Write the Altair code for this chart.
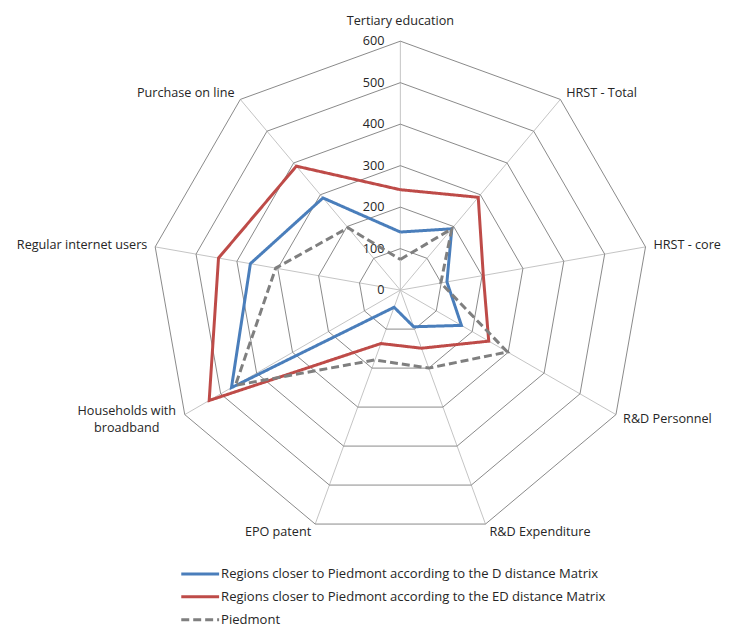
import altair as alt
import pandas as pd

# ---------------- data ----------------
categories = ["Tertiary education", "HRST - Total", "HRST - core", "R&D Personnel",
              "R&D Expenditure", "EPO patent", "Households with\nbroadband",
              "Regular internet users", "Purchase on line"]
series_names = ["Regions closer to Piedmont according to the D distance Matrix",
                "Regions closer to Piedmont according to the ED distance Matrix",
                "Piedmont"]
d_matrix = [140, 193, 114, 170, 94, 44, 470, 367, 290]
ed_matrix = [242, 292, 203, 246, 149, 137, 532, 445, 390]
piedmont = [74, 193, 99, 298, 200, 179, 459, 305, 196]
ticks = [0, 100, 200, 300, 400, 500, 600]

series_colors = ["#4A7EBB", "#BE4B48", "#7F7F7F"]
series_dash = [[1, 0], [1, 0], [8, 4]]

# ---------------- layout ----------------
FONT = "Open Sans"
FS = 12.7
LFS = 13.1
TEXT = "#262626"
W, H = 713, 620
CX, CY = 394, 282
RMAX = max(ticks)
U = RMAX / 250.0  # data units per pixel
N = len(categories)
ANG = f"(datum.idx * 2 * PI / {N})"

xs = alt.Scale(domain=[-CX * U, (W - CX) * U], nice=False, zero=False)
ys = alt.Scale(domain=[-(H - CY) * U, CY * U], nice=False, zero=False)
col_scale = alt.Scale(domain=series_names, range=series_colors)
dash_scale = alt.Scale(domain=series_names, range=series_dash)

series_df = pd.DataFrame([
    {"series": s, "idx": i, "value": vals[i % N]}
    for s, vals in zip(series_names, [d_matrix, ed_matrix, piedmont])
    for i in range(N + 1)
])
ring_df = pd.DataFrame([{"tick": t, "idx": i} for t in ticks[1:] for i in range(N + 1)])
cat_df = pd.DataFrame({"label": categories, "idx": list(range(N))})
tick_df = pd.DataFrame({"tick": ticks})
legend_df = pd.DataFrame({"series": series_names, "k": list(range(len(series_names)))})

rings = alt.Chart(ring_df).transform_calculate(
    px=f"datum.tick * sin({ANG})", py=f"datum.tick * cos({ANG})"
).mark_line(stroke="#898989", strokeWidth=1).encode(
    x=alt.X("px:Q", scale=xs, axis=None),
    y=alt.Y("py:Q", scale=ys, axis=None),
    detail="tick:N",
    order="idx:Q",
)

spokes = alt.Chart(cat_df).transform_calculate(
    x0="0", y0="0",
    px=f"{RMAX} * sin({ANG})", py=f"{RMAX} * cos({ANG})"
).mark_rule(stroke="#C4C4C4", strokeWidth=1).encode(
    x=alt.X("x0:Q", scale=xs, axis=None),
    y=alt.Y("y0:Q", scale=ys, axis=None),
    x2="px:Q",
    y2="py:Q",
)

lines = alt.Chart(series_df).transform_calculate(
    px=f"datum.value * sin({ANG})", py=f"datum.value * cos({ANG})"
).mark_line(strokeWidth=3).encode(
    x=alt.X("px:Q", scale=xs, axis=None),
    y=alt.Y("py:Q", scale=ys, axis=None),
    order="idx:Q",
    color=alt.Color("series:N", scale=col_scale, legend=None),
    strokeDash=alt.StrokeDash("series:N", scale=dash_scale, legend=None),
)

tick_labels = alt.Chart(tick_df).transform_calculate(
    x0="0"
).mark_text(align="right", baseline="middle", dx=-16, font=FONT, fontSize=FS, color=TEXT).encode(
    x=alt.X("x0:Q", scale=xs, axis=None),
    y=alt.Y("tick:Q", scale=ys, axis=None),
    text="tick:Q",
)

cat_base = alt.Chart(cat_df).transform_calculate(
    s=f"sin({ANG})", c=f"cos({ANG})",
    multi="indexof(datum.label, '\\n') >= 0 ? 1 : 0",
).transform_calculate(
    lx=f"{RMAX} * datum.s + (abs(datum.s) < 0.01 ? 0 : (datum.s > 0 ? 1 : -1) * (2 + 6 * abs(datum.s))) * {U}",
    ly=f"{RMAX} * datum.c + (abs(datum.s) < 0.01 ? 20 : 8 * datum.c) * {U}",
)

def cat_layer(cond, align, dx=0, dy=0):
    return cat_base.transform_filter(cond).mark_text(
        align=align, baseline="middle", font=FONT, fontSize=FS, color=TEXT,
        lineBreak="\n", lineHeight=17.5, dx=dx, dy=dy
    ).encode(
        x=alt.X("lx:Q", scale=xs, axis=None),
        y=alt.Y("ly:Q", scale=ys, axis=None),
        text="label:N",
    )

cat_top = cat_layer("abs(datum.s) < 0.01", "center")
cat_right = cat_layer("datum.s >= 0.01", "left")
cat_left = cat_layer("datum.s <= -0.01 && datum.multi == 0", "right")
cat_multi = cat_layer("datum.s <= -0.01 && datum.multi == 1", "center", dx=-51, dy=-8)

leg_base = alt.Chart(legend_df).transform_calculate(
    ly=f"({CY} - (567 + 23 * datum.k)) * {U}",
    lx1=f"(174 - {CX}) * {U}",
    lx2=f"(212 - {CX}) * {U}",
    tx=f"(214 - {CX}) * {U}",
)
leg_lines = leg_base.mark_rule(strokeWidth=3).encode(
    x=alt.X("lx1:Q", scale=xs, axis=None),
    x2="lx2:Q",
    y=alt.Y("ly:Q", scale=ys, axis=None),
    color=alt.Color("series:N", scale=col_scale, legend=None),
    strokeDash=alt.StrokeDash("series:N", scale=dash_scale, legend=None),
)
leg_text = leg_base.mark_text(align="left", baseline="middle", font=FONT, fontSize=LFS, color=TEXT).encode(
    x=alt.X("tx:Q", scale=xs, axis=None),
    y=alt.Y("ly:Q", scale=ys, axis=None),
    text="series:N",
)

chart = alt.layer(
    spokes, rings, tick_labels, lines, cat_top, cat_right, cat_left, cat_multi, leg_lines, leg_text
).properties(width=W, height=H, padding=0).configure_view(stroke=None)

chart.save("out.html", embed_options={"renderer": "svg", "actions": False})
